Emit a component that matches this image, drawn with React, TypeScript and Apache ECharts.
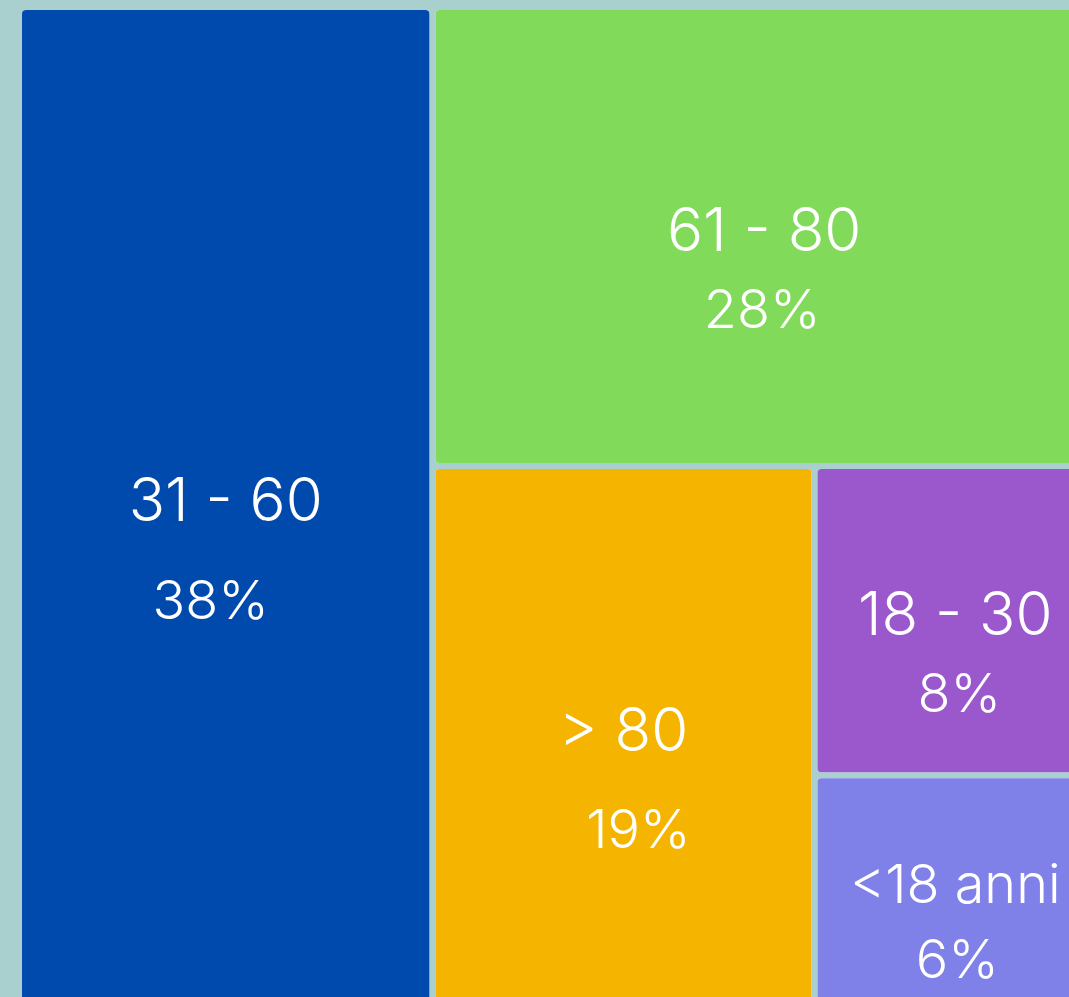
import React, { useEffect, useRef } from "react";
import * as echarts from "echarts";

const categories = ["31 - 60", "61 - 80", "> 80", "18 - 30", "<18 anni"];
const shares = [38, 28, 19, 8, 6];
const colors = ["#004AAD", "#81DA5A", "#F4B400", "#9A58CC", "#7F80E8"];

// label styling per block: line separation, percent x shift, name font size
const labelSep = [100, 80, 100, 80, 75];
const pctShift = [-15, -2, 15, 4, 2];
const nameSize = [60, 60, 60, 60, 54];

export default function App() {
  const ref = useRef<HTMLDivElement>(null);
  useEffect(() => {
    document.body.style.margin = "0";
    const chart = echarts.init(ref.current!, null, { renderer: "svg" });
    const data = categories.map((name, i) => {
      const sep = labelSep[i];
      const s = pctShift[i];
      return {
        name,
        value: shares[i],
        itemStyle: { color: colors[i] },
        label: {
          rich: {
            n: { fontSize: nameSize[i], lineHeight: sep, color: "#fff", fontFamily: "Inter", fontWeight: 300 },
            p: {
              fontSize: 54,
              lineHeight: sep,
              color: "#fff",
              fontFamily: "Inter",
              fontWeight: 300,
              padding: s >= 0 ? [0, 0, 0, 2 * s] : [0, -2 * s, 0, 0],
            },
          },
        },
      };
    });
    const idxOf = (params: any) => {
      const t = String(params.text || "");
      const k = categories.findIndex((c) => t.indexOf(`{n|${c}}`) >= 0);
      return k >= 0 ? k : Math.max(0, (params.dataIndex || 1) - 1);
    };
    chart.setOption({
      animation: false,
      backgroundColor: "#A9D0CE",
      series: [
        {
          type: "treemap",
          left: 22,
          top: 10,
          width: 1071,
          height: 994,
          roam: false,
          nodeClick: false,
          breadcrumb: { show: false },
          squareRatio: 0.3,
          sort: "desc",
          itemStyle: { gapWidth: 6, borderWidth: 0, borderRadius: 4 },
          levels: [
            { itemStyle: { gapWidth: 6, borderWidth: 0, borderColor: "transparent" } },
            { itemStyle: { borderWidth: 0, borderRadius: 4 } },
          ],
          label: {
            show: true,
            position: "insideTop",
            align: "center",
            overflow: "none",
            formatter: (p: any) => `{n|${p.name}}\n{p|${p.value}%}`,
          },
          labelLayout: (params: any) => {
            const i = idxOf(params);
            const r = params.rect;
            return {
              x: r.x + r.width / 2,
              y: r.y + r.height / 2 - 13 - labelSep[i] / 2,
              align: "center",
              verticalAlign: "top",
            };
          },
          data,
        },
      ],
    });
    return () => chart.dispose();
  }, []);
  return <div ref={ref} style={{ position: "fixed", left: 0, top: 0, width: 1069, height: 997 }} />;
}
